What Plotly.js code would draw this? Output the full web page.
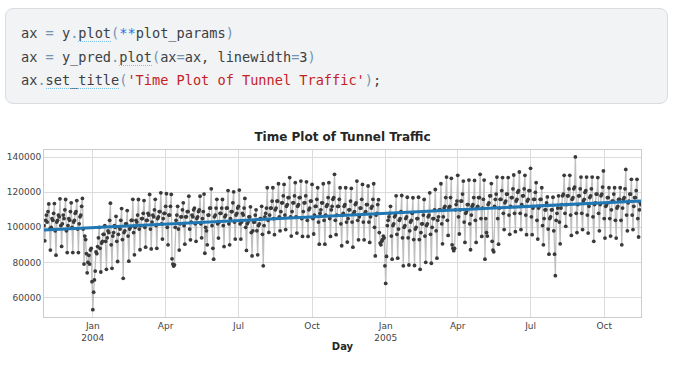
<!DOCTYPE html>
<html>
<head>
<meta charset="utf-8">
<script src="https://cdn.plot.ly/plotly-3.0.1.min.js"></script>
<style>
  html, body { margin: 0; padding: 0; background: #ffffff; width: 675px; height: 366px; overflow: hidden; }
  #chart { position: absolute; left: 0; top: 0; width: 675px; height: 366px; }
  #code {
    position: absolute; left: 5px; top: 8px; width: 663px; height: 96px;
    background: #f1f3f4; border: 1px solid #dadce0; border-radius: 8px;
    box-sizing: border-box; padding: 13px 0 0 15px;
    font-family: "DejaVu Sans Mono", "Liberation Mono", monospace; font-size: 13.6px;
    line-height: 23.5px; color: #3c4043; white-space: pre; z-index: 2;
  }
  #code .o { color: #7393b3; }
  #code .b { color: #1a73e8; }
  #code .s { color: #c5221f; }
  #code .u { border-bottom: 1px dotted #7cc4f0; }
</style>
</head>
<body>
<div id="chart"></div>
<div id="code"><div>ax <span class="o">=</span> y<span class="o">.</span><span class="u">plot</span><span class="o">(</span><span class="b">**</span>plot_params<span class="o">)</span></div><div>ax <span class="o">=</span> y_pred<span class="o">.</span><span class="u">plot</span><span class="o">(</span>ax<span class="o">=</span>ax, linewidth<span class="o">=</span>3<span class="o">)</span></div><div>ax<span class="o">.</span><span class="u">set_title</span><span class="o">(</span><span class="s">'Time Plot of Tunnel Traffic'</span><span class="o">)</span>;</div></div>
<script>
// Daily tunnel traffic (thousands of vehicles), one row per week Sat..Fri, starting 2003-11-01
const startDate = '2003-11-01';
const trafficK = [
101,92.3,104,107,103,109,113.4,
99,87,100,105,104,108,113.6,
98,84.1,103,104,107,106,116.3,
101,89.1,102,107,105,110,115.9,
98,85.6,101,105,104,109,114,
100,85.6,103,104,108,109,115.3,
99,85.6,102,106,107,112,116.5,
99,79,95,93,85,74,80,
84,79,87,88,69,53,63,
70,75,86,85,89,94,100,
88,74.5,91,92,96,96,101,
92,76,94,98,97,104,113.8,
90,76.6,95,97,101,100,106.3,
92,80.5,96,100,99,104,110.7,
93,70.9,97,98,102,102,109.6,
95,80.7,99,100,104,104,116,
97,84.3,100,104,103,107,115.9,
99,87.2,101,105,105,108,115.3,
100,88.7,104,104,108,107,118.8,
99,87.7,103,107,106,110,116,
101,88,105,106,109,109,119.7,
102,93.3,105,108,108,112,119.2,
100,90,107,107,112,118.8,82,
79,77.9,78.6,100,104,107,112,
99,87,102,106,106,110,114,
101,90.4,106,106,109,109,117.8,
99,92.9,103,107,106,110,111,
102,92,105,106,109,110,117.8,
102,94,105,109,119,85.2,100,
98,90,107,107,111,111,122,
101,88,81.8,106,107,111,116,
102,93.9,103,108,108,111,115.9,
101,89,106,107,111,111,121,
102,90,105,109,109,114,120.3,
103,93.3,107,108,111,112,121.3,
102,93.3,103,108,107,111,116.5,
100,86.8,102,103,106,106,111.7,
97,83.7,98,103,103,107,110,
98,84.3,101,102,105,105,112,
96,78,101,106,108,111,122.6,
104,97.1,107,111,111,115,122.6,
105,95.8,110,111,115,115,124.9,
106,98,109,114,114,118,124.5,
107,98.7,112,113,117,117,128.4,
106,95,109,114,114,118,125.5,
106,96.7,112,113,117,117,126.4,
105,94.8,109,114,114,118,126,
104,94.8,110,111,115,115,124.5,
105,96.2,107,112,112,116,122.6,
103,90.4,108,110,114,114,124.9,
104,90.4,107,112,113,117,125.5,
105,94.8,110,112,116,117,130.3,
104,95.8,107,112,112,116,122.6,
102,89.5,107,108,112,113,122.6,
103,91.6,105,110,110,115,122.2,
103,88.7,108,109,113,114,126.4,
104,92.9,106,111,111,116,124.5,
103,92.9,108,109,113,113,123.6,
103,91.4,106,111,112,116,124.9,
100,83.7,107,108,113,115.8,97,
91,90,92,93,95,94,78,
68,83.4,101,104,106,108,112,
95,81.8,101,102,106,107,118,
96,82.4,99,104,105,109,118.2,
94,78,100,101,105,106,117.2,
94,78.5,98,103,104,108,116.9,
93,78.2,99,100,105,105,117.2,
93,76,97,102,102,107,115.9,
95,80,101,102,106,107,119.7,
96,79.5,100,105,105,110,121.6,
98,82.4,104,106,110,110,124.9,
102,90.6,106,111,112,117,128.7,
104,95.4,111,112,117,128,90,
88,86.7,88,110,113,115,129.7,
106,96.2,110,115,115,119,126.4,
103,91.4,108,109,113,113,127,
102,87.2,107,112,113,117,126.8,
104,91.4,111,112,117,117,130.3,
105,94.8,111,116,127,81.8,105,
97,95,113,114,118,118,125,
92,87,86,112,116,119,128.7,
105,90.4,111,116,116,121,128.4,
108,98.7,114,115,119,119,128.4,
107,96,112,117,117,122,129.9,
108,97.5,115,116,120,121,131.6,
108,98.7,113,118,118,122,129.7,
107,95.8,115,116,121,121,133.7,
106,95.8,111,116,116,120,125.5,
104,93.3,111,112,116,116,122.6,
101,90,105,110,110,114,117.4,
99,84.7,105,106,110,110,117.2,
98,84.7,72.4,104,108,111,118,
103,90.6,111,113,118,119,129.7,
108,100.6,113,118,118,122,129.7,
107,95.4,116,117,122,123,140.2,
108,97,113,118,118,122,128.7,
108,98.7,115,116,120,121,128.7,
107,96.7,112,117,118,122,128.7,
106,92,113,114,119,119,128.4,
108,98,113,118,119,123,132.2,
105,93.9,112,113,117,117,122.6,
105,95,110,115,115,119,122.6,
104,93.9,111,112,116,116,122.6,
104,90,111,116,117,122,133.1,
107,98,114,115,119,119,127.4,
107,98.7,112,117,117,121,127.4,
105,94.5,110,114,113
];
// Fitted trend (y_pred) read at both ends
const trendDates = ['2003-11-01', '2005-11-16'];
const trendValues = [98500, 115100];
// Axis ticks
const xTickVals = ['2004-01-01', '2004-04-01', '2004-07-01', '2004-10-01', '2005-01-01', '2005-04-01', '2005-07-01', '2005-10-01'];
const xTickText = ['Jan<br>2004', 'Apr', 'Jul', 'Oct', 'Jan<br>2005', 'Apr', 'Jul', 'Oct'];
const yTickVals = [60000, 80000, 100000, 120000, 140000];

const t0 = Date.parse(startDate + 'T00:00:00Z');
const days = trafficK.map((_, i) => new Date(t0 + i * 86400000).toISOString().slice(0, 10));
const traffic = trafficK.map(v => v * 1000);

const data = [
  {
    x: days, y: traffic, type: 'scatter', mode: 'lines+markers',
    line: { color: '#bfbfbf', width: 1.3 },
    marker: { color: '#3a3a3a', size: 3.8 },
    hoverinfo: 'skip', showlegend: false
  },
  {
    x: trendDates, y: trendValues, type: 'scatter', mode: 'lines',
    line: { color: '#1f77b4', width: 3 },
    hoverinfo: 'skip', showlegend: false
  }
];

const layout = {
  width: 675, height: 366,
  margin: { l: 44, r: 34, t: 150, b: 49, pad: 0 },
  paper_bgcolor: '#ffffff', plot_bgcolor: '#ffffff',
  font: { family: 'DejaVu Sans, sans-serif', size: 9, color: '#333333' },
  title: {
    text: '<b>Time Plot of Tunnel Traffic</b>',
    font: { family: 'DejaVu Sans, sans-serif', size: 12, color: '#262626' },
    x: 0.5, xref: 'paper', xanchor: 'center',
    y: 1 - 137 / 366, yref: 'container', yanchor: 'middle'
  },
  xaxis: {
    type: 'date', range: ['2003-11-01', '2005-11-16'],
    tickmode: 'array', tickvals: xTickVals, ticktext: xTickText,
    showgrid: true, gridcolor: '#dcdcdc', gridwidth: 1,
    showline: true, linecolor: '#cccccc', linewidth: 1, mirror: true,
    ticks: '', zeroline: false,
    tickfont: { size: 9, color: '#444444' },
    title: { text: '<b>Day</b>', font: { size: 10, color: '#262626' }, standoff: 1 }
  },
  yaxis: {
    range: [48800, 144170],
    tickmode: 'array', tickvals: yTickVals, tickformat: 'd',
    showgrid: true, gridcolor: '#dcdcdc', gridwidth: 1,
    showline: true, linecolor: '#cccccc', linewidth: 1, mirror: true,
    ticks: '', zeroline: false,
    tickfont: { size: 9, color: '#444444' }
  }
};

Plotly.newPlot('chart', data, layout, { displayModeBar: false, staticPlot: true });
</script>
</body>
</html>
